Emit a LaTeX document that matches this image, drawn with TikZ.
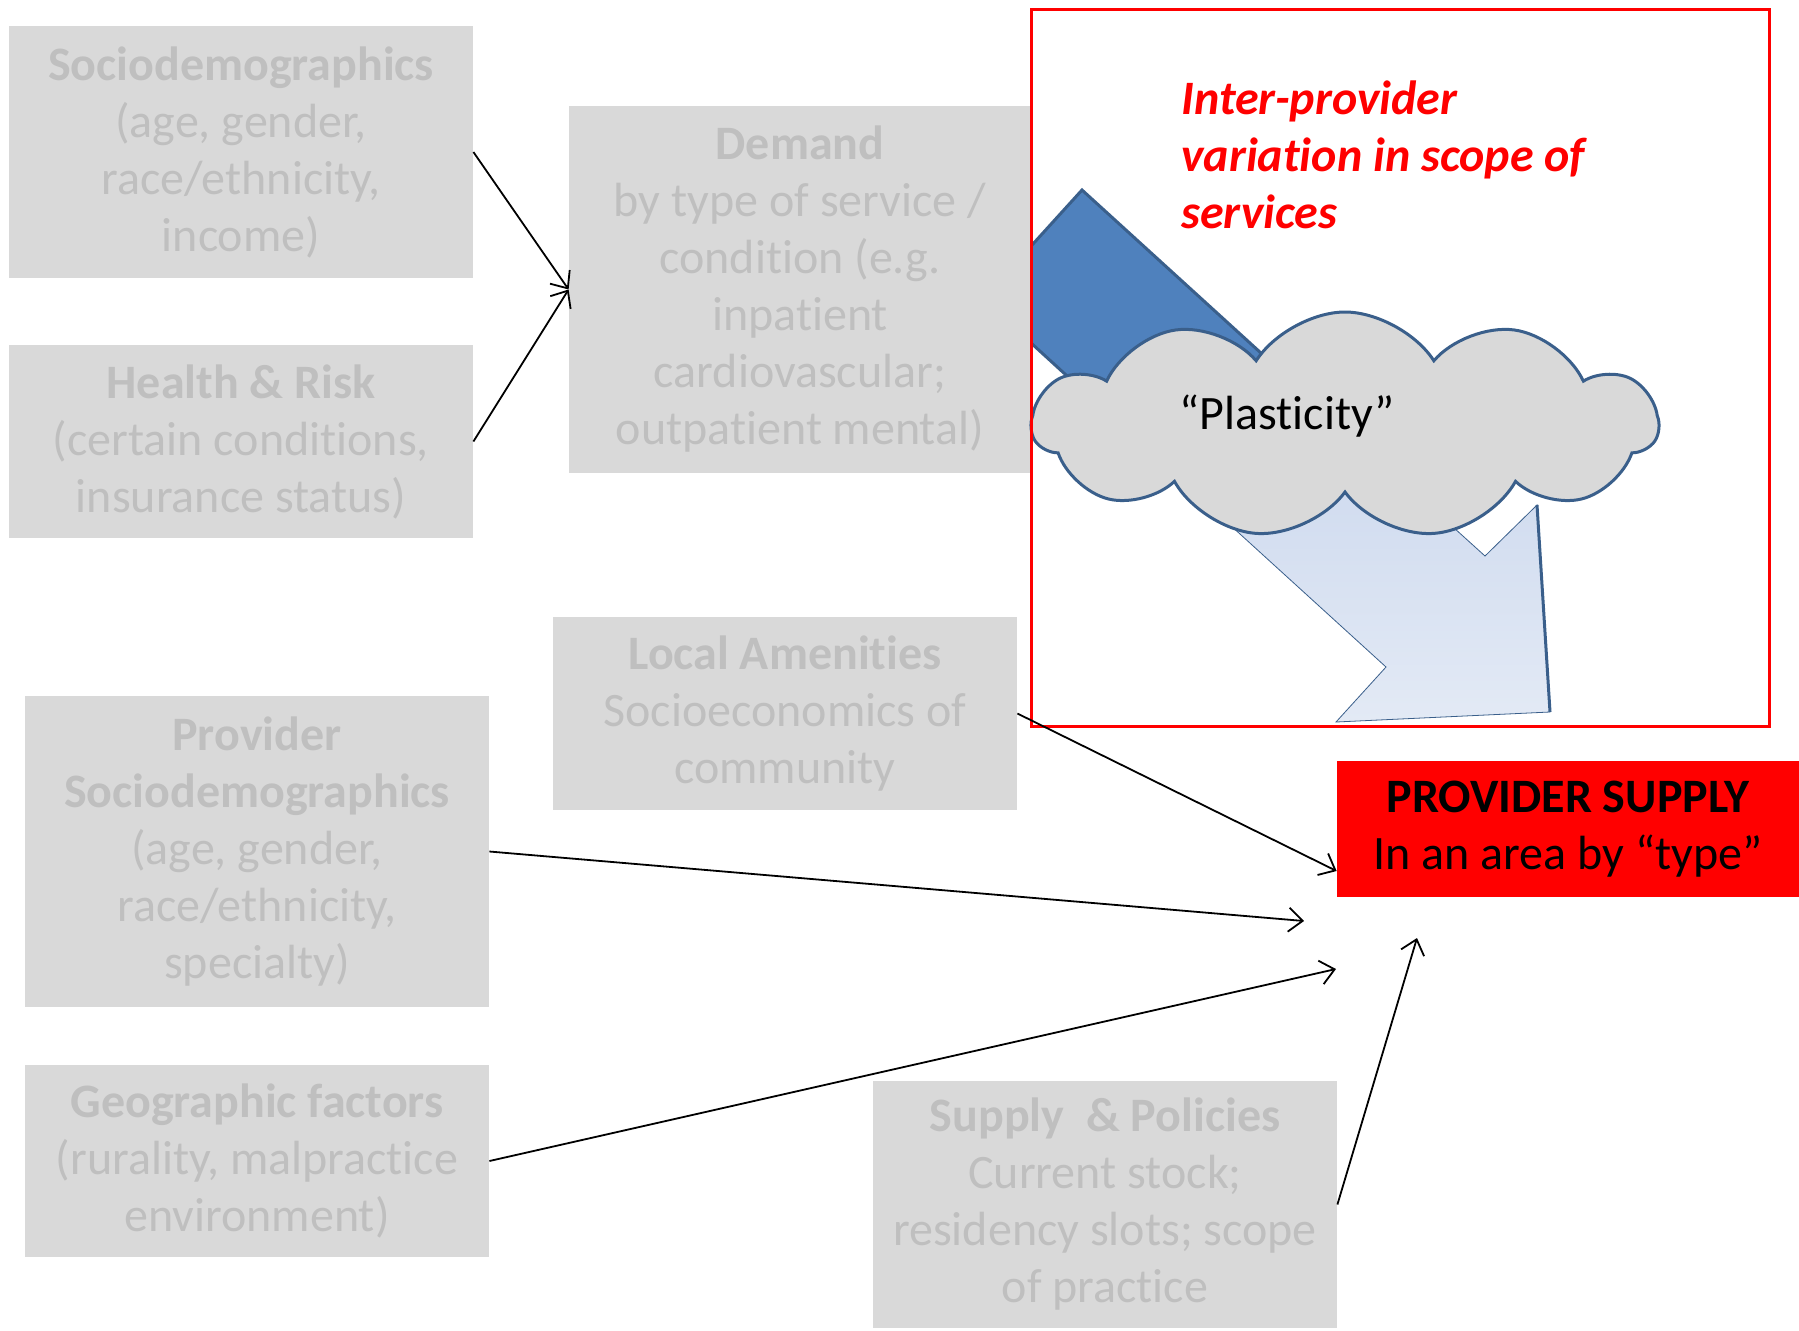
\documentclass[tikz,border=0pt]{standalone}
\usepackage{fontspec}
\setmainfont{Carlito}[Ligatures=NoCommon]
\usetikzlibrary{arrows.meta, shapes.symbols}
\definecolor{boxfill} {HTML}{D9D9D9}
\definecolor{boxtext} {HTML}{BFBFBF}
\definecolor{edgeblue}{HTML}{3A5F8B}
\definecolor{darkblue}{HTML}{4F81BD}
\definecolor{paleblue}{HTML}{E3EAF5}
\definecolor{midblue} {HTML}{C8D5ED}
\definecolor{alert}   {HTML}{FF0000}

\tikzset{
  factor/.style={fill=boxfill, text=boxtext, align=center, inner sep=0pt, minimum width=232pt},
  link/.style={-{Straight Barb[length=7pt,width=12pt]}, line width=0.9pt},
}

\begin{document}
\begin{tikzpicture}[x=0.5pt, y=-0.5pt, font=\fontsize{24}{28.5}\selectfont]
  \useasboundingbox (0,0) rectangle (1799,1330);

  % block arrow through the cloud: dark tail, pale head
  \draw[edgeblue, line width=1.5pt, fill=darkblue]
    (1082,190) -- (1284,374) -- (1184,483) -- (983,299) -- cycle;
  \draw[edgeblue, line width=0.4pt, shading=axis, shading angle=45, top color=midblue, bottom color=paleblue]
    (1284,374) -- (1485,556) -- (1537,505) -- (1550,712) -- (1336,722) -- (1386,667) -- (1184,483) -- cycle;
  \draw[edgeblue, line width=1.5pt] (1537,505) -- (1550,712);

  \node[factor, minimum height=126pt] (soc) at (241,152)
    {\textbf{Sociodemographics}\\(age, gender,\\race/ethnicity,\\income)};
  \node[factor, minimum height=96.5pt] (hlth) at (241,441.5)
    {\textbf{Health \& Risk}\\(certain conditions,\\insurance status)};
  \node[factor, minimum width=231pt, minimum height=183.5pt] (dem) at (800,289.5)
    {\textbf{Demand}\\by type of service /\\condition (e.g.\\inpatient\\cardiovascular;\\outpatient mental)};
  \node[factor, minimum height=96.5pt] (amen) at (785,713.5)
    {\textbf{Local Amenities}\\Socioeconomics of\\community};
  \node[factor, minimum height=155.5pt] (prov) at (257,851.5)
    {\textbf{Provider}\\\textbf{Sociodemographics}\\(age, gender,\\race/ethnicity,\\specialty)};
  \node[factor, minimum height=96pt] (geo) at (257,1161)
    {\textbf{Geographic factors}\\(rurality, malpractice\\environment)};
  \node[factor, minimum height=123.5pt] (pol) at (1105,1204.5)
    {\textbf{Supply\ \ \& Policies}\\Current stock;\\residency slots; scope\\of practice};

  \node[cloud, cloud puffs=11, cloud puff arc=115, aspect=2.7, draw=edgeblue, line width=1.5pt, fill=boxfill,
        minimum width=313pt, minimum height=113pt] (puff) at (1345,425) {};
  \node (plast) at (1287,416) {“Plasticity”};

  \draw[alert, line width=1.5pt] (1031,9) rectangle (1769,726);
  \node[text=alert, font=\fontsize{24}{28.5}\selectfont\bfseries\itshape, align=left, anchor=west, inner sep=0pt]
    (scopevar) at (1181,155) {Inter-provider\\variation in scope of\\services};

  \node[fill=alert, align=center, inner sep=0pt, minimum width=231pt, minimum height=68pt]
    (sup) at (1568,829) {\textbf{PROVIDER SUPPLY}\\In an area by “type”};

  \coordinate (provEnd) at (1304,921);
  \coordinate (geoEnd)  at (1336,969);
  \coordinate (polEnd)  at (1417,938);

  \draw[link] (soc.east) -- (dem.west);
  \draw[link] (hlth.east) -- (dem.west);
  \draw[link] (amen.east) -- ([yshift=-21pt]sup.west);
  \draw[link] (prov.east) -- (provEnd);
  \draw[link] (geo.east) -- (geoEnd);
  \draw[link] (pol.east) -- (polEnd);
\end{tikzpicture}
\end{document}
